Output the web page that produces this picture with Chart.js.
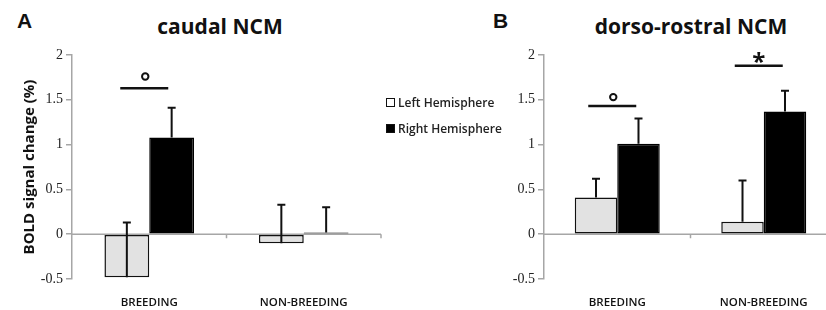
<!DOCTYPE html>
<html>
<head>
<meta charset="utf-8">
<script src="https://cdn.jsdelivr.net/npm/chart.js@4.4.0/dist/chart.umd.min.js"></script>
<style>
    body { margin: 0; width: 826px; height: 310px; overflow: hidden; background: #fff; position: relative; }
    .panel { position: absolute; top: 0; height: 310px; }
    .letter { position: absolute; top: 10px; font: bold 21px 'Liberation Sans'; line-height: 1; color: #111; }
    .title { position: absolute; top: 16px; width: 400px; text-align: center; font: bold 21px 'Open Sans'; line-height: 1; color: #111; }
    #legend { position: absolute; left: 386px; top: 89px; font: 600 12px 'Open Sans'; color: #222; }
    #legend div { height: 26px; display: flex; align-items: center; }
    #legend span.sw { width: 7px; height: 7px; border: 1.5px solid #111; margin-right: 3px; display: inline-block; }
</style>
</head>
<body>
<div class="letter" style="left:17px">A</div>
<div class="letter" style="left:493px">B</div>
<div class="title" style="left:20px">caudal NCM</div>
<div class="title" style="left:491px">dorso-rostral NCM</div>
<div class="panel" style="left:0;width:440px"><canvas id="caudal"></canvas></div>
<div class="panel" style="left:460px;width:462px"><canvas id="rostral"></canvas></div>
<div id="legend"></div>
<script>
const categories = ['BREEDING', 'NON-BREEDING']
const hemispheres = ['Left Hemisphere', 'Right Hemisphere']
const yTicks = [-0.5, 0, 0.5, 1, 1.5, 2]

// caudal NCM
const caudalLeft = [-0.48, -0.10]
const caudalLeftErr = [0.61, 0.43]
const caudalRight = [1.08, 0.02]
const caudalRightErr = [0.33, 0.28]
const caudalSigCat = [0]
const caudalSigLine = [1.63]
const caudalSigMark = [1.76]
const caudalSigSymbol = ['o']

// dorso-rostral NCM
const rostralLeft = [0.41, 0.14]
const rostralLeftErr = [0.21, 0.46]
const rostralRight = [1.01, 1.37]
const rostralRightErr = [0.28, 0.23]
const rostralSigCat = [0, 1]
const rostralSigLine = [1.43, 1.88]
const rostralSigMark = [1.53, 1.99]
const rostralSigSymbol = ['o', '*']

const fills = ['#e2e2e2', '#000']
const axisGray = '#a6a6a6'

// legend
const legend = document.getElementById('legend')
hemispheres.forEach((name, i) => {
    const row = document.createElement('div')
    const sw = document.createElement('span')
    sw.className = 'sw'
    sw.style.background = i === 0 ? '#fff' : '#000'
    row.appendChild(sw)
    row.appendChild(document.createTextNode(name))
    legend.appendChild(row)
})

const extras = {
    id: 'extras',
    beforeDatasetsDraw(chart) {
        const { ctx, chartArea, scales: { x, y } } = chart
        const y0 = y.getPixelForValue(0)
        const step = (chartArea.right - chartArea.left) / categories.length
        ctx.save()
        ctx.strokeStyle = axisGray
        ctx.lineWidth = 1.5
        ctx.beginPath()
        ctx.moveTo(chartArea.left, y0)
        ctx.lineTo(chartArea.right, y0)
        for (let k = 1; k <= categories.length; k++) {
            const bx = chartArea.left + k * step
            ctx.moveTo(bx, y0)
            ctx.lineTo(bx, y0 + 4)
        }
        ctx.stroke()
        ctx.restore()
    },
    afterDatasetsDraw(chart, args, opts) {
        const { ctx, scales: { x, y } } = chart
        ctx.save()
        ctx.strokeStyle = '#111'
        ctx.lineWidth = 2
        // error bars, positive side only
        chart.data.datasets.forEach((ds, i) => {
            chart.getDatasetMeta(i).data.forEach((bar, j) => {
                const v = ds.data[j]
                const yb = y.getPixelForValue(v)
                const yt = y.getPixelForValue(v + ds.err[j])
                ctx.beginPath()
                ctx.moveTo(bar.x, yb)
                ctx.lineTo(bar.x, yt)
                ctx.moveTo(bar.x - 4, yt)
                ctx.lineTo(bar.x + 4, yt)
                ctx.stroke()
            })
        })
        // significance markers
        opts.cats.forEach((c, k) => {
            const cx = x.getPixelForValue(c) - 5
            const ly = y.getPixelForValue(opts.line[k])
            const my = y.getPixelForValue(opts.mark[k])
            ctx.lineWidth = 2.5
            ctx.beginPath()
            ctx.moveTo(cx - 24, ly)
            ctx.lineTo(cx + 24, ly)
            ctx.stroke()
            if (opts.symbol[k] === 'o') {
                ctx.lineWidth = 2
                ctx.beginPath()
                ctx.arc(cx + 1, my, 3.2, 0, Math.PI * 2)
                ctx.stroke()
            } else {
                ctx.fillStyle = '#111'
                ctx.font = 'bold 24px "Open Sans"'
                ctx.textAlign = 'center'
                ctx.textBaseline = 'alphabetic'
                ctx.fillText(opts.symbol[k], cx, my + 14)
            }
        })
        ctx.restore()
    }
}

function makeChart(id, left, leftErr, right, rightErr, sig, yWidth, padRight, yTitle) {
    return new Chart(document.getElementById(id), {
        type: 'bar',
        data: {
            labels: categories,
            datasets: [
                { label: hemispheres[0], data: left, err: leftErr, backgroundColor: fills[0], borderColor: '#111', borderWidth: 1.5, borderSkipped: false },
                { label: hemispheres[1], data: right, err: rightErr, backgroundColor: fills[1], borderColor: '#000', borderWidth: 1.5, borderSkipped: false }
            ]
        },
        options: {
            responsive: false,
            animation: false,
            layout: { padding: { top: 55, right: padRight } },
            datasets: { bar: { categoryPercentage: 0.58, barPercentage: 1 } },
            plugins: {
                legend: { display: false },
                tooltip: { enabled: false },
                extras: sig
            },
            scales: {
                x: {
                    grid: { display: false },
                    border: { display: false },
                    ticks: { color: '#111', font: { family: 'Open Sans', size: 11.5, weight: '600' }, padding: 9 },
                    afterFit: s => { s.height = 31 }
                },
                y: {
                    min: -0.5,
                    max: 2,
                    afterBuildTicks: s => { s.ticks = yTicks.map(v => ({ value: v })) },
                    grid: { drawOnChartArea: false, tickLength: 6, color: axisGray, lineWidth: 1.5 },
                    border: { color: axisGray, width: 1.5 },
                    ticks: {
                        color: '#222',
                        font: { family: '"Liberation Serif", "Times New Roman", serif', size: 14 },
                        padding: 3,
                        callback: v => String(v)
                    },
                    title: {
                        display: !!yTitle,
                        text: yTitle,
                        color: '#111',
                        font: { family: 'Open Sans', size: 15, weight: 'bold' },
                        padding: { top: 21, bottom: 0 }
                    },
                    afterFit: s => { s.width = yWidth }
                }
            }
        },
        plugins: [extras]
    })
}

document.getElementById('caudal').width = 440
document.getElementById('caudal').height = 310
document.getElementById('rostral').width = 462
document.getElementById('rostral').height = 310

makeChart('caudal', caudalLeft, caudalLeftErr, caudalRight, caudalRightErr,
    { cats: caudalSigCat, line: caudalSigLine, mark: caudalSigMark, symbol: caudalSigSymbol },
    72, 59, 'BOLD signal change (%)')
makeChart('rostral', rostralLeft, rostralLeftErr, rostralRight, rostralRightErr,
    { cats: rostralSigCat, line: rostralSigLine, mark: rostralSigMark, symbol: rostralSigSymbol },
    84, 85, '')
</script>
</body>
</html>
